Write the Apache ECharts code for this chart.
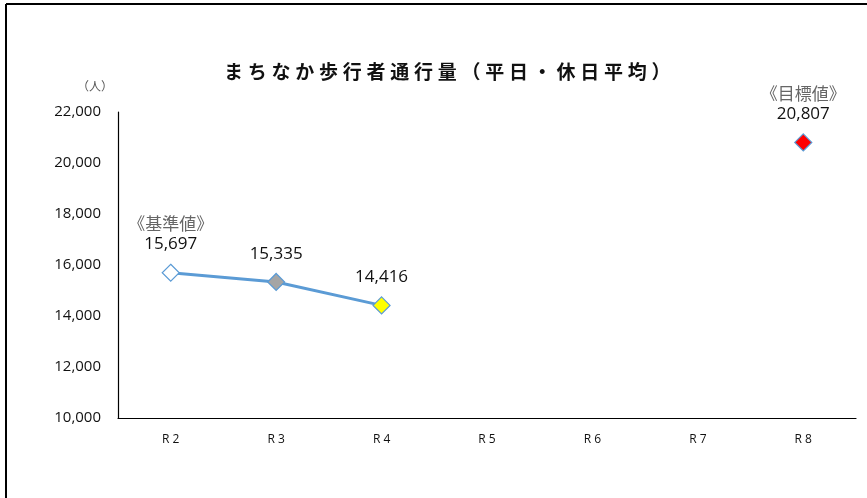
<!DOCTYPE html>
<html><head><meta charset="utf-8">
<script src="https://cdn.jsdelivr.net/npm/echarts@6/dist/echarts.min.js"></script>
<style>html,body{margin:0;padding:0;background:#fff}#c{width:867px;height:498px}</style>
</head><body><div id="c"></div>
<script>
const categories = ['R2','R3','R4','R5','R6','R7','R8'];
const actualValues = [15697, 15335, 14416, null, null, null, null];
const targetValues = [null, null, null, null, null, null, 20807];
const markerColors = ['#FFFFFF', '#A5A5A5', '#FFFF00', null, null, null, '#FF0000'];
const markerNotes = ['《基準値》', '', '', '', '', '', '《目標値》'];
const titleText = 'まちなか歩行者通行量（平日・休日平均）';
const yMin = 10000, yMax = 22000, yStep = 2000;

const fmt = v => v.toLocaleString('en-US');
const font = '"Noto Sans CJK JP", "Noto Sans", sans-serif';
const numFont = '"Open Sans", sans-serif';

function item(v, i) {
  if (v == null) return null;
  return {
    value: v,
    itemStyle: { color: markerColors[i], borderColor: '#5B9BD5', borderWidth: 1.2 }
  };
}
function labelFmt(p) {
  const note = markerNotes[p.dataIndex];
  return (note ? '{n|' + note + '}\n' : '') + '{v|' + fmt(p.value) + '}';
}
const labelCfg = {
  show: true, position: 'top', distance: 9, formatter: labelFmt,
  rich: {
    n: { color: '#666', fontSize: 17, fontFamily: font, lineHeight: 22 },
    v: { color: '#111', fontSize: 17, fontFamily: numFont, lineHeight: 20 }
  }
};

const chart = echarts.init(document.getElementById('c'));
chart.setOption({
  animation: false,
  backgroundColor: '#fff',
  title: {
    text: titleText.split('').join('\u2005'),
    left: 219, top: 57,
    textStyle: { fontFamily: font, fontSize: 19, fontWeight: 'bold', color: '#111' }
  },
  graphic: [
    { type: 'line', shape: { x1: 6, y1: 4, x2: 867, y2: 4 }, style: { stroke: '#000', lineWidth: 2 } },
    { type: 'line', shape: { x1: 6, y1: 4, x2: 6, y2: 498 }, style: { stroke: '#000', lineWidth: 2 } },
    { type: 'text', left: 77, top: 80, style: { text: '（人）', fontFamily: font, fontSize: 12, fill: '#555' } }
  ],
  grid: { left: 118, right: 11, top: 112, bottom: 80 },
  xAxis: {
    type: 'category', data: categories, boundaryGap: true,
    axisLine: { lineStyle: { color: '#000', width: 1.2 } },
    axisTick: { show: false },
    axisLabel: { color: '#111', fontSize: 12, fontFamily: numFont, margin: 16,
      formatter: v => v.split('').join(' ') }
  },
  yAxis: {
    type: 'value', min: yMin, max: yMax, interval: yStep,
    axisLine: { show: true, lineStyle: { color: '#000', width: 1.2 } },
    axisTick: { show: false },
    splitLine: { show: false },
    axisLabel: { color: '#111', fontSize: 15, fontFamily: numFont, margin: 17, formatter: v => fmt(v) }
  },
  series: [
    {
      type: 'line', data: actualValues.map(item), symbol: 'diamond', symbolSize: 17,
      lineStyle: { color: '#5B9BD5', width: 3 }, label: labelCfg, z: 3
    },
    {
      type: 'line', data: targetValues.map(item), symbol: 'diamond', symbolSize: 17,
      lineStyle: { color: '#5B9BD5', width: 3 }, label: labelCfg, z: 3
    }
  ]
});
</script></body></html>
